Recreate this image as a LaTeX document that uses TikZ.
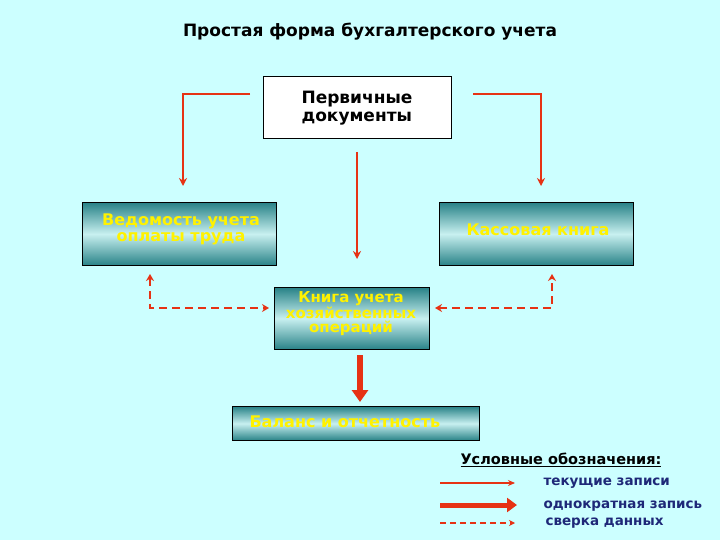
\documentclass[tikz,border=0pt]{standalone}
\usepackage{fontspec}
\setmainfont{DejaVu Sans}
\usetikzlibrary{arrows.meta}
\definecolor{bg}{RGB}{204,255,255}
\definecolor{ar}{RGB}{230,50,20}
\definecolor{navy}{RGB}{30,40,120}
\definecolor{tealD}{RGB}{40,130,135}
\definecolor{tealL}{RGB}{200,240,240}
\begin{document}
\begin{tikzpicture}[x=1pt,y=-1pt,
  tbox/.style={draw=black,line width=1pt,top color=tealD,bottom color=tealD,middle color=tealL,inner sep=0pt},
  ytxt/.style={text=yellow,font=\bfseries\fontsize{16}{16}\selectfont,align=center},
  cur/.style={draw=ar,line width=2.5pt,-{Stealth[length=8pt,width=8pt]}},
  chk/.style={draw=ar,line width=2.5pt,dashed,dash pattern=on 8pt off 5pt,{Stealth[length=7pt,width=8pt]}-{Stealth[length=7pt,width=8pt]}},
  big/.style={draw=ar,line width=6pt,-{Triangle[length=12pt,width=16pt]}},
  leg/.style={text=navy,font=\bfseries\fontsize{13.5}{13.5}\selectfont,anchor=west}]
\fill[bg] (0,0) rectangle (720,540);
\useasboundingbox (0,0) rectangle (720,540);
\node[font=\bfseries\fontsize{17}{17}\selectfont] (title) at (370,32) {Простая форма бухгалтерского учета};
\node[draw=black,fill=white,line width=1pt,minimum width=188pt,minimum height=62pt,align=left,font=\fontsize{17}{18}\selectfont\bfseries,inner sep=0pt] (pd) at (357,108) {Первичные\\документы};
\node[tbox,minimum width=194pt,minimum height=63pt,anchor=north west] (ved) at (82,202) {};
\node[ytxt,anchor=north] (vedt) at (181,210) {Ведомость учета\\оплаты труда};
\node[tbox,minimum width=194pt,minimum height=63pt,anchor=north west] (kas) at (439,202) {};
\node[ytxt] (kast) at (538,230) {Кассовая книга};
\node[tbox,minimum width=155pt,minimum height=62pt,anchor=north west] (kn) at (274,287) {};
\node[ytxt,font=\bfseries\fontsize{15}{14.5}\selectfont,anchor=north] (knt) at (351,288) {Книга учета\\хозяйственных\\операций};
\node[tbox,minimum width=247pt,minimum height=34pt,anchor=north west] (bal) at (232,406) {};
\node[ytxt,anchor=west] (balt) at (246,422) {Баланс и отчетность};
\coordinate (l0) at (250,94); \coordinate (r0) at (473,94);
\coordinate (m0) at (357,152); \coordinate (b0) at (360,355);
\draw[cur] (l0) -- (183,94) -- (183,186);
\draw[cur] (r0) -- (541,94) -- (541,186);
\draw[cur] (m0) -- (357,259);
\draw[chk] (150,274) -- (150,308) -- (269,308);
\draw[chk] (435,308) -- (552,308) -- (552,274);
\draw[big] (b0) -- (360,402);
\node[font=\bfseries\fontsize{14.5}{14.5}\selectfont,anchor=west] (lt) at (457,460) {\underline{Условные обозначения:}};
\draw[draw=ar,line width=2.5pt,-{Stealth[length=7pt,width=6pt]}] (440,483) -- (515,483);
\draw[draw=ar,line width=5pt,-{Triangle[length=10pt,width=14pt]}] (440,505) -- (517,505);
\draw[draw=ar,line width=2pt,dashed,dash pattern=on 6pt off 4pt,-{Stealth[length=6pt,width=6pt]}] (440,523) -- (515,523);
\node[leg] (l1) at (540,483) {текущие записи};
\node[leg] (l2) at (540,506) {однократная запись};
\node[leg] (l3) at (542,523) {сверка данных};
\end{tikzpicture}
\end{document}
